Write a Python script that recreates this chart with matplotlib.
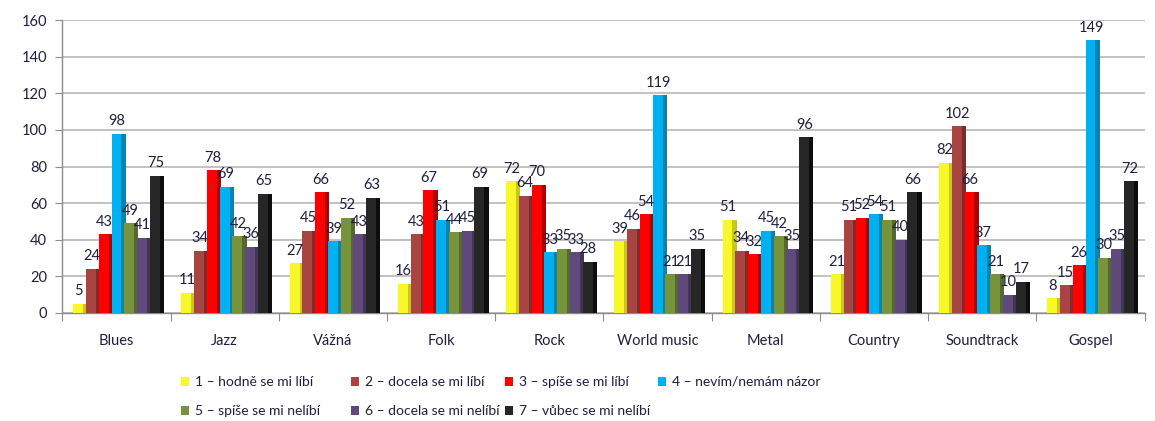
import matplotlib
matplotlib.use("Agg")
import matplotlib.pyplot as plt
import numpy as np
from matplotlib.patches import Patch

categories = ["Blues", "Jazz", "Vážná", "Folk", "Rock", "World music",
              "Metal", "Country", "Soundtrack", "Gospel"]
series_names = ["1 – hodně se mi líbí", "2 – docela se mi líbí", "3 – spíše se mi líbí",
                "4 – nevím/nemám názor", "5 – spíše se mi nelíbí",
                "6 – docela se mi nelíbí", "7 – vůbec se mi nelíbí"]
s1 = [5, 11, 27, 16, 72, 39, 51, 21, 82, 8]
s2 = [24, 34, 45, 43, 64, 46, 34, 51, 102, 15]
s3 = [43, 78, 66, 67, 70, 54, 32, 52, 66, 26]
s4 = [98, 69, 39, 51, 33, 119, 45, 54, 37, 149]
s5 = [49, 42, 52, 44, 35, 21, 42, 51, 21, 30]
s6 = [41, 36, 43, 45, 33, 21, 35, 40, 10, 35]
s7 = [75, 65, 63, 69, 28, 35, 96, 66, 17, 72]
series = [s1, s2, s3, s4, s5, s6, s7]
y_ticks = [0, 20, 40, 60, 80, 100, 120, 140, 160]

colors = ["#F7F72A", "#A84441", "#FF0000", "#00B0F0", "#77933C", "#604A7B", "#262626"]
side_colors = ["#C9C910", "#7A2E2C", "#B30000", "#0085B5", "#55692A", "#43345A", "#0D0D0D"]
text_color = '#1F1F3F'

plt.rcParams['font.family'] = ['Lato', 'DejaVu Sans']

fig = plt.figure(figsize=(11.55, 4.21), dpi=100)
ax = fig.add_axes([0.054, 0.257, 0.937, 0.695])

x = np.arange(len(categories))
n = len(series)
w = 0.118
offsets = (np.arange(n) - (n - 1) / 2) * w

for i, (vals, c, sc) in enumerate(zip(series, colors, side_colors)):
    xs = x + offsets[i]
    ax.bar(xs + w * 0.22, vals, width=w, color=sc, zorder=3 + i * 0.01, linewidth=0)
    ax.bar(xs, vals, width=w * 0.78, color=c, zorder=3.005 + i * 0.01, linewidth=0,
           align='center', label=series_names[i])
    for xi, v in zip(xs, vals):
        ax.text(xi + w * 0.05, v + 3, str(v), ha='center', va='bottom', fontsize=10.5,
                color=text_color, zorder=6)

ax.set_xlim(-0.5, len(categories) - 0.5)
ax.set_ylim(0, 160)
ax.set_yticks(y_ticks)
ax.set_yticklabels([str(t) for t in y_ticks], fontsize=10.5, color=text_color)
ax.yaxis.grid(True, color='#BDBDBD', linewidth=1.3, zorder=0)
ax.set_axisbelow(True)

ax.set_xticks(np.arange(-0.5, len(categories), 1.0))
ax.set_xticklabels([])
ax.set_xticks(x, minor=True)
ax.set_xticklabels(categories, minor=True, fontsize=10.5, color=text_color)
ax.tick_params(axis='x', which='minor', length=0, pad=15)
ax.tick_params(axis='x', which='major', length=6, color='#8C8C8C', direction='out')
ax.tick_params(axis='y', length=5, color='#8C8C8C', pad=6)

for side in ['top', 'right']:
    ax.spines[side].set_visible(False)
for side in ['left', 'bottom']:
    ax.spines[side].set_color('#8C8C8C')
    ax.spines[side].set_linewidth(1.0)

handles = [Patch(facecolor=c, edgecolor='none') for c in colors]
# fixed-width legend columns like the original (row 1: 1-4, row 2: 5-7)
columns = [[0, 4], [1, 5], [2, 6], [3]]
col_x = [181, 351, 505, 658]
for cols, cx in zip(columns, col_x):
    fig.legend([handles[i] for i in cols], [series_names[i] for i in cols],
               ncol=1, loc='upper left', bbox_to_anchor=(cx / 1155, 1 - 376 / 421),
               frameon=False, fontsize=10, handlelength=0.6, handleheight=0.6,
               handletextpad=0.4, labelspacing=1.25,
               borderaxespad=0, borderpad=0, labelcolor=text_color)

fig.savefig("out.png", dpi=100)
